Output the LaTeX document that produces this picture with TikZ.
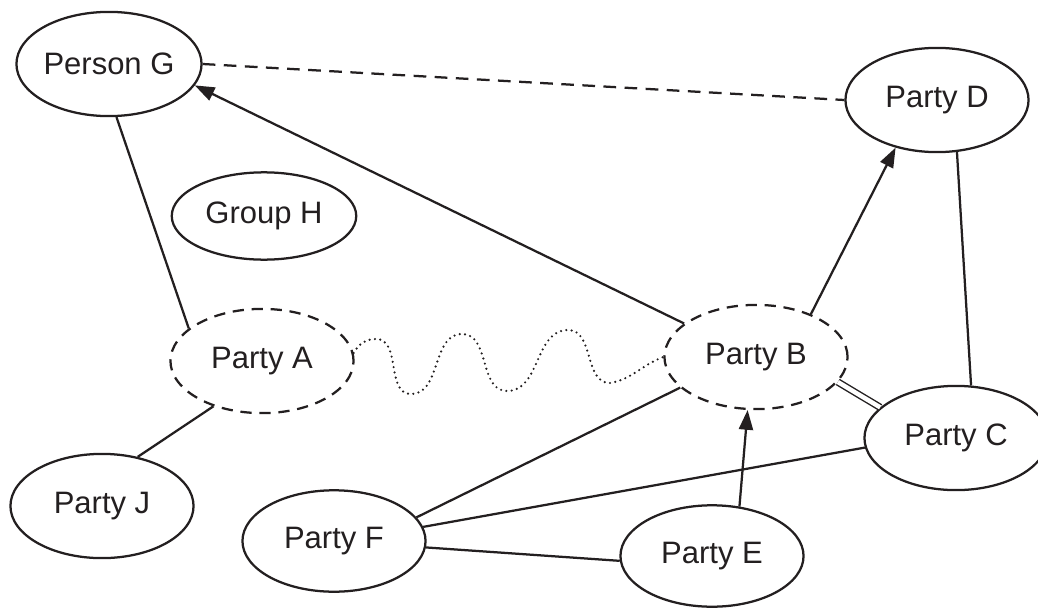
\documentclass[tikz,border=0pt]{standalone}
\usepackage{fontspec}
\setmainfont{Liberation Sans}
\usetikzlibrary{shapes.geometric,arrows.meta}
\definecolor{ink}{HTML}{231F20}
\tikzset{
  party/.style={ellipse, draw=ink, line width=1.6pt, inner sep=0pt,
    minimum width=130pt, minimum height=74pt, text=ink,
    font=\fontsize{22}{26}\selectfont},
  dashedparty/.style={party, dash pattern=on 8pt off 5.5pt},
  link/.style={draw=ink, line width=1.6pt},
  arrowlink/.style={link, -{Triangle[length=14pt,width=10pt]}},
  dashlink/.style={link, dash pattern=on 9pt off 6pt},
  dotlink/.style={draw=ink, line width=1.7pt, line cap=round, dash pattern=on 0pt off 3.8pt},
  doublelink/.style={draw=ink, line width=1pt, double=white, double distance=3.2pt},
}
\begin{document}
\begin{tikzpicture}[x=0.71pt, y=-0.71pt]
\clip (0,0) rectangle (1038,608);
\fill[white] (0,0) rectangle (1038,608);
\node[party] (g) at (109,64) {Person G};
\node[party, minimum width=131pt, minimum height=62pt] (h) at (264,216) {Group H};
\node[party] (d) at (937,100) {Party D};
\node[dashedparty] (a) at (262,361) {Party A};
\node[dashedparty] (b) at (756,357) {Party B};
\node[party] (c) at (956,438) {Party C};
\node[party] (j) at (102,506) {Party J};
\node[party, minimum height=72pt] (f) at (334,541) {Party F};
\node[party, minimum height=72pt] (e) at (712,556) {Party E};
% connectors
\draw[dashlink] (g.east) -- (d.west);
\draw[arrowlink] (b.155) -- (g.-14.6);
\draw[link] (g.-82.6) -- (a.156.8);
\draw[link] (a.-137.4) -- (j.54.5);
\draw[dotlink] (a.5) to[out=60,in=180] (376,339) to[out=0,in=180] (411,394)
  to[out=0,in=180] (462,334) to[out=0,in=180] (507,391)
  to[out=0,in=180] (568,330) to[out=0,in=180] (610,383)
  to[out=10,in=200] (b.west);
\draw[arrowlink] (b.38.2) -- (d.-131.2);
\draw[link] (d.-69) -- (c.74.9);
\draw[doublelink] (b.-17.2) -- (c.158.7);
\draw[link] (f.16.8) -- (b.-158.7);
\draw[link] (f.9.5) -- (c.-174.4);
\draw[link] (f.-4.9) -- (e.-177.5);
\draw[arrowlink] (e.61.6) -- (b.-99.6);
\end{tikzpicture}
\end{document}
